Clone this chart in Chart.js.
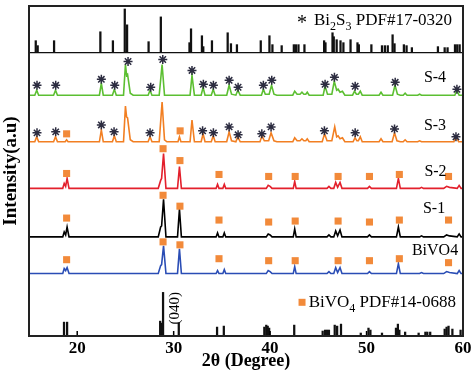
<!DOCTYPE html>
<html><head><meta charset="utf-8">
<script src="https://cdn.jsdelivr.net/npm/chart.js@4/dist/chart.umd.min.js"></script>
<style>html,body{margin:0;padding:0;background:#fff}#wrap{width:474px;height:372px}</style>
</head><body><div id="wrap"><canvas id="c" width="474" height="372"></canvas></div>
<script>
// ---------- DATA (2θ in degrees, intensity in arbitrary units) ----------
const xTickValues = [20, 30, 40, 50, 60];
const sampleNames = ['S-4', 'S-3', 'S-2', 'S-1', 'BiVO4'];

// Bi2S3 PDF#17-0320 reference sticks [2θ, relative intensity]
const bi2s3Sticks = [[15.7,12],[15.9,7],[17.6,12],[22.4,21],[23.7,12],[24.93,44],[25.17,28],[27.4,11],[28.67,36],
  [31.64,10],[31.8,24],[32.93,17],[33.07,6],[33.97,12],[35.6,20],[35.94,9],[36.56,8],[39.03,12],[39.93,17],[40.24,8],
  [41.2,7],[42.46,8],[42.67,8],[42.94,8],[43.56,8],[45.6,12],[45.74,10],[46.47,20],[46.6,16],[46.9,13],[47.3,12],[47.6,10],
  [48.34,13],[49.06,10],[49.2,8],[50.5,8],[51.6,7],[51.9,7],[52.2,7],[52.7,18],[52.9,9],[53.87,8],[54.15,7],[54.7,5],
  [57.4,6],[58.1,5],[58.4,5],[59.17,8],[59.4,8],[59.65,8]];

// BiVO4 PDF#14-0688 reference sticks
const bivo4Sticks = [[18.63,14],[18.95,14],[28.6,15],[28.7,13],[28.9,44],[30.53,13],[34.5,9],[35.2,10],[39.4,9],[39.6,11],
  [39.75,10],[39.9,8],[42.5,11],[45.45,5],[45.7,6],[45.9,6],[46.1,6],[46.7,11],[46.95,10],[47.35,12],[49.4,3],[50.2,8],
  [50.4,6],[51.6,3],[53.05,8],[53.25,12],[53.4,6],[54.0,4],[55.4,3],[56.1,4],[56.3,4],[56.6,4],[58.1,7],[58.3,9],[58.5,10],
  [58.9,7],[59.75,6]];

// Measured patterns [2θ, intensity]
const s4Pattern = [[15,0],[15.6,0],[15.8,5],[16.0,0],[17.55,0],[17.75,5],[17.95,0],[22.3,0],[22.5,12],[22.7,0],[23.65,0],[23.85,6],
  [24.05,0],[24.8,0],[25.0,31],[25.12,20],[25.22,21],[25.5,2],[25.8,0],[27.35,0],[27.55,5],[27.75,0],[28.5,0],[28.8,31],[29.05,0],
  [31.7,0],[31.9,20],[32.15,0],[32.85,0],[33.05,8],[33.25,0],[33.9,0],[34.1,6],[34.3,0],[35.5,0],[35.75,10],[36.0,1],[36.45,0],
  [36.65,5],[36.9,0],[39.1,0],[39.3,6],[39.5,1],[39.9,1],[40.15,10],[40.4,1],[40.7,0],[42.35,0],[42.55,4],[42.8,1],[43.1,1],
  [43.3,3],[43.5,1],[43.7,1],[43.85,3],[44.05,0],[45.5,0],[45.7,9],[45.95,1],[46.4,1],[46.65,14],[46.9,5],[47.05,6],[47.25,3],
  [47.5,4],[47.75,0],[48.55,0],[48.75,4],[48.95,1],[49.15,1],[49.35,4],[49.55,0],[51.3,0],[51.5,3],[51.7,0],[52.7,0],[52.95,10],
  [53.2,1],[53.5,0],[53.8,0],[54.0,2],[54.2,0],[55.3,0],[55.5,1],[55.7,0],[59.15,0],[59.35,5],[59.6,0],[60,0]];
const s3Pattern = [[15,0],[15.6,0],[15.8,5],[16.0,0],[17.55,0],[17.75,5],[17.95,0],[18.75,0],[18.9,2],[19.05,0],[22.3,0],[22.5,12],
  [22.7,0],[23.65,0],[23.85,6],[24.05,0],[24.8,0],[25.0,36],[25.12,25],[25.22,24],[25.5,2],[25.8,0],[27.35,0],[27.55,5],[27.75,0],
  [28.5,0],[28.8,40],[29.05,2],[29.3,0],[30.45,0],[30.6,5],[30.75,0],[31.7,0],[31.9,22],[32.15,0],[32.85,0],[33.05,8],[33.25,0],
  [33.9,0],[34.1,6],[34.3,0],[35.5,0],[35.75,10],[36.0,1],[36.45,0],[36.65,5],[36.9,0],[38.95,0],[39.15,6],[39.4,1],[39.85,1],
  [40.1,9],[40.4,1],[40.7,0],[42.35,0],[42.55,4],[42.8,1],[43.1,1],[43.3,3],[43.5,1],[43.7,1],[43.85,3],[44.05,0],[45.4,0],
  [45.65,8],[45.9,1],[46.4,1],[46.7,15],[46.9,5],[47.05,6],[47.25,3],[47.5,4],[47.75,0],[48.6,0],[48.8,4],[49.0,1],[49.15,1],
  [49.35,5],[49.55,0],[51.3,0],[51.5,3],[51.7,0],[52.65,0],[52.9,9],[53.15,1],[53.5,0],[53.8,0],[54.0,2],[54.2,0],[55.3,0],
  [55.5,1],[55.7,0],[59.05,0],[59.3,5],[59.55,0],[60,0]];
const s2Pattern = [[15,0],[18.5,0],[18.65,5],[18.8,2],[18.95,10],[19.15,0],[28.4,0],[28.65,8],[28.75,10],[28.95,35],[29.2,0],
  [30.4,0],[30.6,22],[30.8,0],[34.4,0],[34.55,4],[34.7,0],[35.1,0],[35.25,4],[35.4,0],[39.6,0],[39.8,3],[40.0,2],[40.2,0],
  [42.4,0],[42.55,7],[42.7,0],[45.9,0],[46.1,2],[46.3,0],[46.6,0],[46.8,6],[47.0,1],[47.25,6],[47.45,0],[50.1,0],[50.3,2],
  [50.5,0],[53.1,0],[53.3,10],[53.5,0],[55.5,0],[55.7,1],[55.9,0],[58.0,0],[58.3,2],[58.6,1],[59.4,0],[59.6,3],[59.8,0],[60,0]];
const s1Pattern = [[15,0],[18.5,0],[18.65,5],[18.8,2],[18.95,10],[19.15,0],[28.4,0],[28.65,10],[28.75,11],[28.95,38],[29.2,0],
  [30.4,0],[30.6,28],[30.8,0],[34.4,0],[34.55,4],[34.7,0],[35.1,0],[35.25,4],[35.4,0],[39.6,0],[39.8,3],[40.0,2],[40.2,0],
  [42.4,0],[42.55,8],[42.7,0],[45.9,0],[46.1,2],[46.3,0],[46.6,0],[46.8,6],[47.0,1],[47.25,7],[47.45,0],[50.1,0],[50.3,2],
  [50.5,0],[53.1,0],[53.3,10],[53.5,0],[55.5,0],[55.7,1],[55.9,0],[58.0,0],[58.3,2],[58.6,1],[59.4,0],[59.6,3],[59.8,0],[60,0]];
const bivo4Pattern = [[15,0],[18.5,0],[18.65,5],[18.8,3],[18.95,6],[19.15,0],[28.4,0],[28.65,8],[28.75,9],[28.95,28],[29.2,0],
  [30.4,0],[30.6,25],[30.8,0],[34.4,0],[34.55,3],[34.7,0],[35.1,0],[35.25,4],[35.4,0],[39.6,0],[39.8,3],[40.0,2],[40.2,0],
  [42.4,0],[42.55,7],[42.7,0],[45.9,0],[46.1,2],[46.3,0],[46.6,0],[46.8,6],[47.0,1],[47.25,6],[47.45,0],[50.1,0],[50.3,2],
  [50.5,0],[53.1,0],[53.3,10],[53.5,0],[55.5,0],[55.7,1],[55.9,0],[58.0,0],[58.3,2],[58.6,1],[59.4,0],[59.6,3],[59.8,0],[60,0]];

// Phase markers [2θ, height above the pattern baseline]
const s4Bi2s3Marks = [[15.83,10],[17.77,10],[22.5,16],[23.89,10],[25.27,34],[27.62,8],[28.87,36],[31.9,25],[33.08,11],[34.12,10],
  [35.75,15],[36.68,8],[39.3,10],[40.17,15],[45.7,11],[46.67,18],[48.82,9],[52.97,13],[59.37,6]];
const s3Bi2s3Marks = [[15.83,9],[17.77,10],[22.5,17],[23.82,10],[27.55,9],[33.0,11],[34.12,9],[35.75,15],[36.68,7],[39.14,8],
  [40.1,15],[45.63,11],[48.82,9],[52.9,13],[59.27,5]];
const s3Bivo4Marks = [[18.9,8],[30.67,11]];
const s2Bivo4Marks = [[18.9,15],[28.9,40],[30.65,28],[34.7,14],[39.85,12],[42.6,12],[47.05,12],[50.3,12],[53.4,14],[58.5,12]];
const s1Bivo4Marks = [[18.9,19],[28.9,42],[30.65,31],[34.7,17],[39.85,15],[42.6,16],[47.05,16],[50.3,15],[53.4,17],[58.5,17]];
const bivo4Bivo4Marks = [[18.9,14],[28.9,32],[30.65,29],[34.7,15],[39.85,13],[42.6,13],[47.05,13],[50.3,13],[53.4,15],[58.5,11]];

// stacking offsets of each pattern (a.u.)
const offsets = {bivo4Ref:0, bivo4:63, s1:100, s2:149, s3:196, s4:243, bi2s3Ref:286};

// ---------- CHART ----------
const SERIF = "'Liberation Serif','Times New Roman',serif";
const pts = (arr, off) => arr.map(p => ({x:p[0], y:p[1] + off}));
const bars = (arr, off) => arr.map(p => ({x:p[0], y:[off, off + p[1]]}));
const lineDs = (arr, off, color) => ({type:'line', data:pts(arr, off), borderColor:color, borderWidth:1.6,
  pointRadius:0, tension:0, fill:false, order:2});
const starDs = (arr, off) => ({type:'line', data:pts(arr, off), showLine:false, pointStyle:'star', pointRadius:4.5,
  pointBorderColor:'#2c2c40', pointBorderWidth:1.5, pointBackgroundColor:'#2c2c40', order:1});
const sqColor = '#f28a3a';
const sqDs = (arr, off) => ({type:'line', data:pts(arr, off), showLine:false, pointStyle:'rect', pointRadius:5,
  pointBorderWidth:0, pointBackgroundColor:sqColor, order:0});
const stickDs = (arr, off) => ({type:'bar', data:bars(arr, off), backgroundColor:'#111', barThickness:1.6,
  grouped:false, order:3});

const decor = {
  id:'decor',
  afterDatasetsDraw(chart){
    const c = chart.ctx, a = chart.chartArea, xs = chart.scales.x, ys = chart.scales.y;
    const X = v => xs.getPixelForValue(v), Y = v => ys.getPixelForValue(v);
    c.save();
    // ticks inward
    c.strokeStyle = '#000'; c.lineWidth = 1.5;
    xTickValues.forEach(v => { c.beginPath(); c.moveTo(X(v), a.bottom); c.lineTo(X(v), a.bottom - 5); c.stroke(); });
    // frame
    c.strokeStyle = '#222'; c.lineWidth = 2;
    c.strokeRect(a.left, a.top, a.right - a.left, a.bottom - a.top);
    c.fillStyle = '#000';
    c.textBaseline = 'middle';
    // sample labels
    c.font = '16px ' + SERIF; c.textAlign = 'right';
    const labelPos = [[58.25, 261], [58.25, 212], [58.3, 166], [58.15, 128], [59.5, 86]];
    sampleNames.forEach((n, i) => c.fillText(n, X(labelPos[i][0]), Y(labelPos[i][1])));
    // Bi2S3 legend
    c.textBaseline = 'alphabetic'; c.textAlign = 'left';
    let x = X(43.3), y = Y(314);
    c.font = '20px ' + SERIF; c.fillText('*', x - 5, y + 4);
    x = X(44.55);
    const seg = (t, sub) => { c.font = (sub ? '12px ' : '17px ') + SERIF; c.fillText(t, x, y + (sub ? 5 : 0)); x += c.measureText(t).width; };
    seg('Bi'); seg('2', true); seg('S'); seg('3', true); seg(' PDF#17-0320');
    // BiVO4 legend
    c.fillStyle = sqColor; c.fillRect(X(43.31) - 3.5, Y(34) - 3.5, 7, 7);
    c.fillStyle = '#000';
    x = X(44.0); y = Y(29);
    seg('BiVO'); seg('4', true); seg(' PDF#14-0688');
    // (040)
    c.save(); c.translate(X(30.14), Y(28)); c.rotate(-Math.PI/2);
    c.font = '15px ' + SERIF; c.textAlign = 'center'; c.textBaseline = 'middle';
    c.fillText('(040)', 0, 0); c.restore();
    c.restore();
  }
};

new Chart(document.getElementById('c'), {
  type:'line',
  data:{datasets:[
    stickDs(bi2s3Sticks, offsets.bi2s3Ref),
    stickDs(bivo4Sticks, offsets.bivo4Ref),
    {type:'line', data:[{x:15, y:offsets.bi2s3Ref}, {x:60, y:offsets.bi2s3Ref}], borderColor:'#111', borderWidth:1.2, pointRadius:0, order:3},
    lineDs(s4Pattern, offsets.s4, '#5cbf32'),
    lineDs(s3Pattern, offsets.s3, '#f27f22'),
    lineDs(s2Pattern, offsets.s2, '#e3202c'),
    lineDs(s1Pattern, offsets.s1, '#000000'),
    lineDs(bivo4Pattern, offsets.bivo4, '#2a4db5'),
    starDs(s4Bi2s3Marks, offsets.s4),
    starDs(s3Bi2s3Marks, offsets.s3),
    sqDs(s3Bivo4Marks, offsets.s3),
    sqDs(s2Bivo4Marks, offsets.s2),
    sqDs(s1Bivo4Marks, offsets.s1),
    sqDs(bivo4Bivo4Marks, offsets.bivo4)
  ]},
  options:{
    responsive:false, animation:false, devicePixelRatio:1,
    layout:{padding:{top:3, right:11, left:0, bottom:0}},
    plugins:{legend:{display:false}, tooltip:{enabled:false}},
    scales:{
      x:{type:'linear', min:15, max:60, offset:false,
        afterBuildTicks: s => { s.ticks = xTickValues.map(v => ({value:v})); },
        afterFit: s => { s.height = 36; },
        grid:{display:false, drawTicks:false},
        border:{display:true, color:'#000', width:2},
        ticks:{color:'#000', padding:2, font:{family:SERIF, size:17, weight:'bold'}},
        title:{display:true, text:'2θ (Degree)', color:'#000', padding:{top:0, bottom:0}, font:{family:SERIF, size:18, weight:'bold'}}
      },
      y:{type:'linear', min:0, max:333,
        afterFit: s => { s.width = 29; },
        grid:{display:false, drawTicks:false},
        border:{display:true, color:'#000', width:2},
        ticks:{display:false},
        title:{display:true, text:'Intensity(a.u)', color:'#000', padding:{top:0, bottom:0}, font:{family:SERIF, size:19, weight:'bold'}}
      }
    }
  },
  plugins:[decor]
});
</script></body></html>
